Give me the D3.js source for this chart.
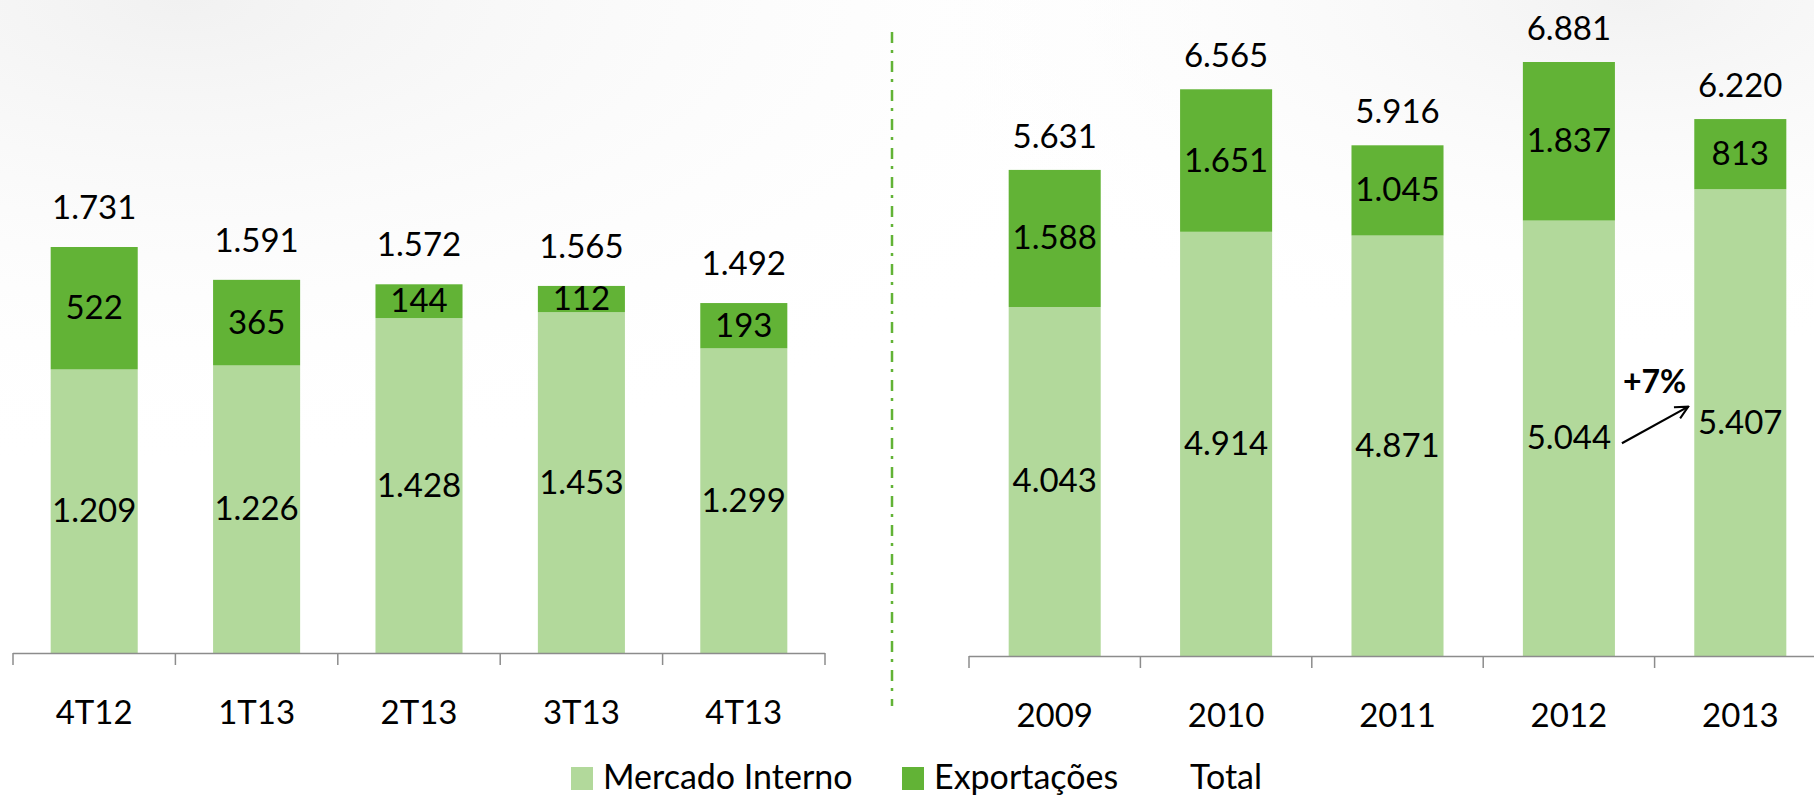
<!DOCTYPE html>
<html>
<head>
<meta charset="utf-8">
<script src="https://cdn.jsdelivr.net/npm/d3@7"></script>
<style>
  html, body { margin: 0; padding: 0; background: #fff; }
  svg { display: block; font-family: Lato, "Open Sans", sans-serif; }
</style>
</head>
<body>
<svg id="chart" width="1814" height="796"></svg>
<script>
// trimestres
const quarters = ["4T12", "1T13", "2T13", "3T13", "4T13"];
const qInterno = [1209, 1226, 1428, 1453, 1299];
const qExport = [522, 365, 144, 112, 193];
const qTotal = [1731, 1591, 1572, 1565, 1492];

// anos
const years = ["2009", "2010", "2011", "2012", "2013"];
const yInterno = [4043, 4914, 4871, 5044, 5407];
const yExport = [1588, 1651, 1045, 1837, 813];
const yTotal = [5631, 6565, 5916, 6881, 6220];

const legendLabels = ["Mercado Interno", "Exportações", "Total"];
const growthLabel = "+7%";

const lightGreen = "#b2d99b";
const darkGreen = "#62b336";
const axisColor = "#8c8c8c";
const fontSize = 33;

const ptBR = d3.formatLocale({ decimal: ",", thousands: ".", grouping: [3], currency: ["R$", ""] });
const fmt = ptBR.format(",d");

const svg = d3.select("#chart");

// fundo levemente cinza no topo
const defs = svg.append("defs");
const gl = defs.append("radialGradient").attr("id", "bgL")
  .attr("cx", 0.1).attr("cy", 0).attr("r", 0.6);
gl.append("stop").attr("offset", "0%").attr("stop-color", "#f1f1f1");
gl.append("stop").attr("offset", "100%").attr("stop-color", "#ffffff").attr("stop-opacity", 0);
const gr = defs.append("radialGradient").attr("id", "bgR")
  .attr("cx", 0.9).attr("cy", 0).attr("r", 0.45);
gr.append("stop").attr("offset", "0%").attr("stop-color", "#f2f2f2");
gr.append("stop").attr("offset", "100%").attr("stop-color", "#ffffff").attr("stop-opacity", 0);
svg.append("rect").attr("width", 1814).attr("height", 796).attr("fill", "#fff");
svg.append("rect").attr("width", 1814).attr("height", 796).attr("fill", "url(#bgL)");
svg.append("rect").attr("width", 1814).attr("height", 796).attr("fill", "url(#bgR)");

function drawPanel(cats, interno, exportv, total, opt) {
  const x = d3.scaleBand().domain(cats).range(opt.xRange)
    .paddingInner(opt.pad).paddingOuter(opt.pad / 2);
  const y = d3.scaleLinear().domain([0, d3.max(total)]).range([opt.base, opt.top]);
  const g = svg.append("g");
  const bw = x.bandwidth();

  const rows = cats.map((c, i) => ({ c, a: interno[i], b: exportv[i], t: total[i] }));

  // Mercado Interno
  g.selectAll(".mi").data(rows).join("rect")
    .attr("x", d => x(d.c)).attr("width", bw)
    .attr("y", d => y(d.a)).attr("height", d => y(0) - y(d.a))
    .attr("fill", lightGreen);
  // Exportações
  g.selectAll(".ex").data(rows).join("rect")
    .attr("x", d => x(d.c)).attr("width", bw)
    .attr("y", d => y(d.a + d.b)).attr("height", d => y(d.a) - y(d.a + d.b))
    .attr("fill", darkGreen);

  const txt = sel => sel.attr("text-anchor", "middle").attr("font-size", fontSize).attr("fill", "#000");

  g.selectAll(".lmi").data(rows).join("text").call(txt)
    .attr("x", d => x(d.c) + bw / 2)
    .attr("y", d => (y(0) + y(d.a)) / 2 + 11)
    .text(d => fmt(d.a));
  g.selectAll(".lex").data(rows).join("text").call(txt)
    .attr("x", d => x(d.c) + bw / 2)
    .attr("y", d => (y(d.a) + y(d.a + d.b)) / 2 + 11)
    .text(d => fmt(d.b));
  g.selectAll(".lt").data(rows).join("text").call(txt)
    .attr("x", d => x(d.c) + bw / 2)
    .attr("y", d => y(d.t) - opt.totalGap)
    .text(d => fmt(d.t));

  // eixo: linha e marcas nas divisas das categorias
  const r = x.range();
  g.append("line")
    .attr("x1", r[0]).attr("x2", r[1]).attr("y1", opt.base + 0.5).attr("y2", opt.base + 0.5)
    .attr("stroke", axisColor).attr("stroke-width", 1.5);
  const bounds = d3.range(cats.length + 1).map(i => r[0] + i * x.step());
  g.selectAll(".tk").data(bounds).join("line")
    .attr("x1", d => d).attr("x2", d => d)
    .attr("y1", opt.base).attr("y2", opt.base + 12)
    .attr("stroke", axisColor).attr("stroke-width", 1.5);
  g.selectAll(".cat").data(cats).join("text").call(txt)
    .attr("x", d => x(d) + bw / 2).attr("y", opt.base + 71)
    .text(d => d);

  return { x, y };
}

drawPanel(quarters, qInterno, qExport, qTotal,
  { xRange: [13, 825], pad: 0.464, base: 653, top: 247, totalGap: 28 });
const right = drawPanel(years, yInterno, yExport, yTotal,
  { xRange: [969, 1826], pad: 0.463, base: 656, top: 62, totalGap: 22 });

// separador tracejado
svg.append("line")
  .attr("x1", 892).attr("x2", 892).attr("y1", 32).attr("y2", 706)
  .attr("stroke", darkGreen).attr("stroke-width", 2.5)
  .attr("stroke-dasharray", "11 7 3 8");

// seta +7%
const xr = right.x, yr = right.y;
const ax1 = xr("2012") + xr.bandwidth() + 7, ay1 = (yr(0) + yr(yInterno[3])) / 2 + 5;
const ax2 = xr("2013") - 6, ay2 = (yr(0) + yr(yInterno[4])) / 2 - 16;
defs.append("marker").attr("id", "arrow")
  .attr("viewBox", "0 0 12 12").attr("refX", 11).attr("refY", 6)
  .attr("markerWidth", 7).attr("markerHeight", 7).attr("markerUnits", "strokeWidth")
  .attr("orient", "auto")
  .append("path").attr("d", "M1,1 L11,6 L1,11").attr("fill", "none")
  .attr("stroke", "#000").attr("stroke-width", 1.6);
svg.append("line")
  .attr("x1", ax1).attr("y1", ay1).attr("x2", ax2).attr("y2", ay2)
  .attr("stroke", "#000").attr("stroke-width", 2.2)
  .attr("marker-end", "url(#arrow)");
svg.append("text")
  .attr("x", (xr("2012") + xr.bandwidth() + xr("2013")) / 2).attr("y", 393)
  .attr("text-anchor", "middle").attr("font-size", 32).attr("font-weight", "bold")
  .text(growthLabel);

// legenda
const legend = svg.append("g");
const legendX = [571, 902, 1190];
const legendColors = [lightGreen, darkGreen, null];
legendLabels.forEach((lab, i) => {
  if (legendColors[i]) {
    legend.append("rect").attr("x", legendX[i]).attr("y", 767)
      .attr("width", 22).attr("height", 23).attr("fill", legendColors[i]);
  }
  legend.append("text")
    .attr("x", legendColors[i] ? legendX[i] + 32 : legendX[i]).attr("y", 789)
    .attr("font-size", 34).attr("fill", "#000")
    .text(lab);
});
</script>
</body>
</html>
